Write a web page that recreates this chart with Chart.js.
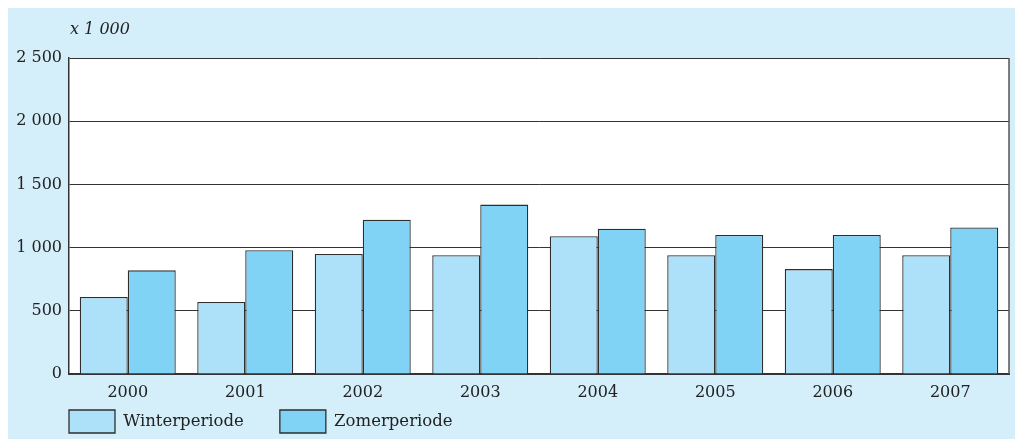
<!DOCTYPE html>
<html>
<head>
<meta charset="utf-8">
<script src="https://cdn.jsdelivr.net/npm/chart.js@4/dist/chart.umd.min.js"></script>
<style>
  html, body { margin: 0; padding: 0; background: #fff; overflow: hidden; }
  #panel { position: absolute; left: 8px; top: 8px; width: 1007px; height: 460px; background: #d4eefa; }
</style>
</head>
<body>
<div id="panel"><canvas id="chart"></canvas></div>
<script>
// data
var jaren = ["2000", "2001", "2002", "2003", "2004", "2005", "2006", "2007"];
var winter = [610, 570, 950, 940, 1090, 940, 830, 940];
var zomer = [820, 980, 1220, 1340, 1150, 1100, 1100, 1160];

var serif = "'DejaVu Serif', 'Liberation Serif', serif";
var tekst = "#222";

function duizend(v) {
    if (v >= 1000) {
        return Math.floor(v / 1000) + " " + String(v % 1000).padStart(3, "0");
    }
    return String(v);
}

// white plot background, right frame line, unit label, legend placement
var extras = {
    id: "extras",
    afterLayout: function(chart) {
        var lg = chart.legend;
        if (!lg) return;
        var h = lg.height;
        lg.top = chart.chartArea.bottom;
        lg.bottom = lg.top + h;
        lg.left = 25;
    },
    beforeDraw: function(chart) {
        var a = chart.chartArea, ctx = chart.ctx;
        ctx.save();
        ctx.fillStyle = "#ffffff";
        ctx.fillRect(a.left, a.top, a.right - a.left, a.bottom - a.top);
        ctx.restore();
    },
    afterDraw: function(chart) {
        var a = chart.chartArea, ctx = chart.ctx;
        ctx.save();
        ctx.strokeStyle = "#555";
        ctx.lineWidth = 1.5;
        ctx.beginPath();
        ctx.moveTo(a.right, a.top);
        ctx.lineTo(a.right, a.bottom);
        ctx.stroke();
        ctx.fillStyle = tekst;
        ctx.font = "italic 16px " + serif;
        ctx.textBaseline = "middle";
        ctx.fillText("x 1 000", a.left + 1, 22);
        ctx.restore();
    }
};

new Chart("chart", {
    type: "bar",
    data: {
        labels: jaren,
        datasets: [{
            label: "Winterperiode",
            data: winter,
            backgroundColor: "#ade0f9",
            borderColor: "#2e2e2e",
            borderWidth: 1.3
        }, {
            label: "Zomerperiode",
            data: zomer,
            backgroundColor: "#80d3f5",
            borderColor: "#2e2e2e",
            borderWidth: 1.3
        }]
    },
    options: {
        responsive: true,
        maintainAspectRatio: false,
        animation: false,
        categoryPercentage: 0.817,
        barPercentage: 1.0,
        layout: { padding: { left: 0, right: 6, top: 50, bottom: 0 } },
        plugins: {
            legend: {
                position: "bottom",
                align: "start",
                labels: {
                    boxWidth: 46,
                    boxHeight: 23,
                    padding: 36,
                    color: tekst,
                    font: { family: serif, size: 16.5 }
                }
            },
            tooltip: { enabled: false }
        },
        scales: {
            x: {
                grid: { display: false, drawTicks: false },
                border: { display: true, color: "#333", width: 2 },
                ticks: { color: tekst, padding: 9, font: { family: serif, size: 16 } },
                afterFit: function(scale) { scale.height = 25; }
            },
            y: {
                min: 0,
                max: 2500,
                grid: { color: "#333", lineWidth: 1, drawTicks: false },
                border: { display: true, color: "#333", width: 1.5 },
                ticks: {
                    stepSize: 500,
                    color: tekst,
                    padding: 7,
                    font: { family: serif, size: 16 },
                    callback: function(v) { return duizend(v); }
                },
                afterFit: function(scale) { scale.width = 61; }
            }
        }
    },
    plugins: [extras]
});
</script>
</body>
</html>
